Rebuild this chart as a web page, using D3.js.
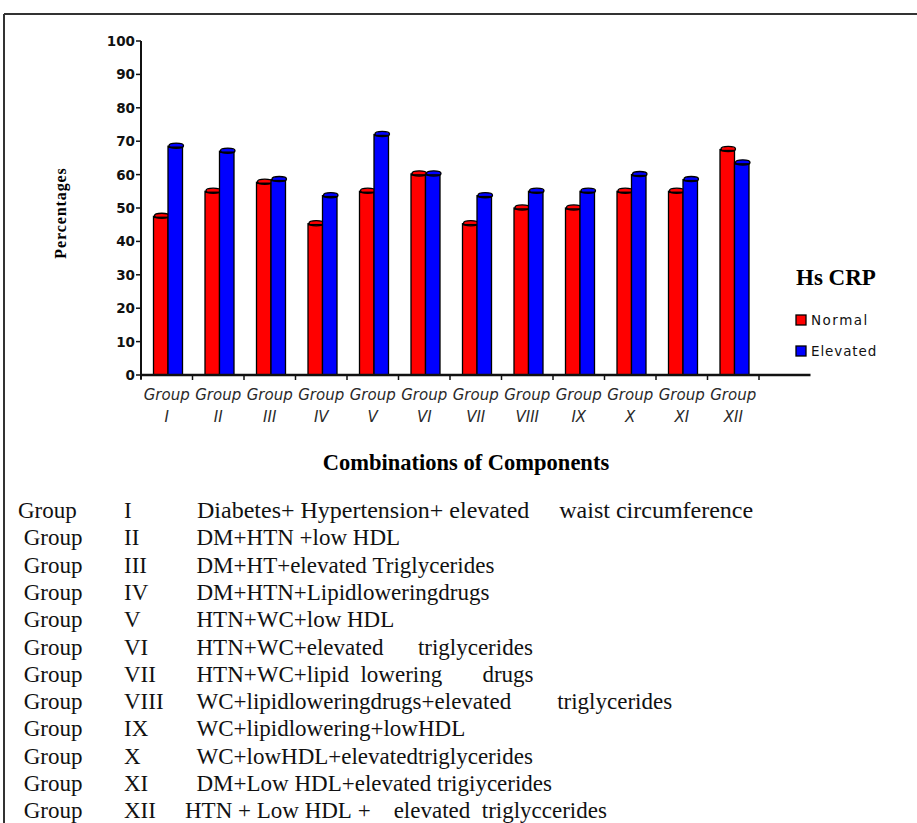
<!DOCTYPE html>
<html><head><meta charset="utf-8">
<script src="https://cdn.jsdelivr.net/npm/d3@7"></script>
<style>body{margin:0;background:#fff}svg{display:block}</style>
</head><body>
<svg id="c" width="917" height="823"></svg>
<script>
const groups = ["I","II","III","IV","V","VI","VII","VIII","IX","X","XI","XII"];
const series = ["Normal","Elevated"];
const normal   = [47.5,55,57.7,45.3,55,60.2,45.3,50,50,55,55,67.5];
const elevated = [68.5,67,58.5,53.7,72,60.2,53.7,55,55,60,58.5,63.5];
const yTicks = [0,10,20,30,40,50,60,70,80,90,100];
const colors = ["#ff0000","#0000ff"];
const descGroups = ["Group"," Group"," Group"," Group"," Group"," Group"," Group"," Group"," Group"," Group"," Group"," Group"];
const descRomans = ["I","II","III","IV","V","VI","VII","VIII","IX","X","XI","XII"];
const descTexts = [
  "Diabetes+ Hypertension+ elevated     waist circumference",
  "  DM+HTN +low HDL",
  "  DM+HT+elevated Triglycerides",
  "  DM+HTN+Lipidloweringdrugs",
  "  HTN+WC+low HDL",
  "  HTN+WC+elevated      triglycerides",
  "  HTN+WC+lipid  lowering       drugs",
  "  WC+lipidloweringdrugs+elevated        triglycerides",
  "  WC+lipidlowering+lowHDL",
  "  WC+lowHDL+elevatedtriglycerides",
  "  DM+Low HDL+elevated trigiycerides",
  "HTN + Low HDL +    elevated  triglyccerides"
];
const nb = s => s.replace(/ /g, "\u00A0");

const svg = d3.select("#c");
// frame
svg.append("line").attr("x1",4).attr("x2",917).attr("y1",14).attr("y2",14).attr("stroke","#333").attr("stroke-width",2);
svg.append("line").attr("x1",4).attr("x2",4).attr("y1",14).attr("y2",823).attr("stroke","#333").attr("stroke-width",2);

const x0 = 141, step = 51.5;
const x = d3.scaleBand().domain(groups).range([x0, x0 + step*groups.length]).padding(0);
const x1 = d3.scaleBand().domain(series).range([12.5, 41.5]).padding(0);
const y = d3.scaleLinear().domain([0,100]).range([375,41]);
const axisEnd = x0 + step*(groups.length+1);

// bars
const data = groups.map((g,i)=>({g, vals:[normal[i], elevated[i]]}));
const gG = svg.append("g");
data.forEach(d=>{
  d.vals.forEach((v,j)=>{
    const bx = x(d.g) + x1(series[j]);
    const w = x1.bandwidth();
    gG.append("rect").attr("x",bx).attr("y",y(v)).attr("width",w).attr("height",y(0)-y(v))
      .attr("fill",colors[j]).attr("stroke","#000").attr("stroke-width",1.3);
    gG.append("ellipse").attr("cx",bx+w/2+1).attr("cy",y(v)-0.5).attr("rx",w/2).attr("ry",2.6)
      .attr("fill",colors[j]).attr("stroke","#000").attr("stroke-width",1.3);
    gG.append("line").attr("x1",bx).attr("x2",bx+w).attr("y1",y(v)+1).attr("y2",y(v)+1).attr("stroke","#000").attr("stroke-width",1.5);
  });
});

// x axis
svg.append("line").attr("x1",x0).attr("x2",axisEnd).attr("y1",y(0)).attr("y2",y(0)).attr("stroke","#111").attr("stroke-width",2.5);
const bounds = d3.range(groups.length+1).map(i=> i<groups.length ? x(groups[i]) : x(groups[groups.length-1])+step);
svg.selectAll(".xt").data(bounds).join("line").attr("x1",d=>d).attr("x2",d=>d).attr("y1",y(0)).attr("y2",y(0)+5).attr("stroke","#111").attr("stroke-width",1.5);
const xl = svg.selectAll(".xl").data(groups).join("text")
  .attr("font-family","DejaVu Sans").attr("font-style","italic").attr("font-size",15).attr("fill","#2a2a2a")
  .attr("text-anchor","middle");
xl.append("tspan").attr("x",d=>x(d)+step/2).attr("y",400).text("Group");
xl.append("tspan").attr("x",d=>x(d)+step/2).attr("y",422).text(d=>d);

// y axis
svg.append("line").attr("x1",x0).attr("x2",x0).attr("y1",y(100)).attr("y2",y(0)+4).attr("stroke","#111").attr("stroke-width",2);
svg.selectAll(".yt").data(yTicks).join("line").attr("x1",x0-5).attr("x2",x0).attr("y1",d=>y(d)).attr("y2",d=>y(d)).attr("stroke","#111").attr("stroke-width",1.5);
svg.selectAll(".yl").data(yTicks).join("text").attr("x",x0-6).attr("y",d=>y(d)+5)
  .attr("text-anchor","end").attr("font-family","DejaVu Sans").attr("font-weight","bold").attr("font-size",13.5).attr("fill","#111").text(d=>d);

// axis titles
svg.append("text").attr("transform","translate(66,213) rotate(-90)").attr("text-anchor","middle")
  .attr("font-family","Liberation Serif").attr("font-weight","bold").attr("font-size",16).attr("letter-spacing",0.9).text("Percentages");
svg.append("text").attr("x",466).attr("y",470).attr("text-anchor","middle")
  .attr("font-family","Liberation Serif").attr("font-weight","bold").attr("font-size",22.5).text("Combinations of Components");

// legend
svg.append("text").attr("x",796).attr("y",285).attr("font-family","Liberation Serif").attr("font-weight","bold").attr("font-size",23).text("Hs CRP");
series.forEach((s,i)=>{
  const ly = 320 + i*31;
  svg.append("rect").attr("x",796).attr("y",ly-5).attr("width",10).attr("height",10).attr("fill",colors[i]).attr("stroke","#000").attr("stroke-width",1.3);
  svg.append("text").attr("x",811).attr("y",ly+5).attr("font-family","DejaVu Sans").attr("font-size",13.5).attr("letter-spacing",i===0?1.5:0.9).attr("fill","#111").text(s);
});

// description table
const dt = svg.append("g").attr("font-family","Liberation Serif").attr("font-size",23).attr("fill","#111");
descTexts.forEach((t,i)=>{
  const by = 518 + i*27.3;
  dt.append("text").attr("x",18).attr("y",by).text(nb(descGroups[i]));
  dt.append("text").attr("x",124).attr("y",by).text(descRomans[i]);
  const tt = dt.append("text").attr("x",i===0?197:185).attr("y",by).text(nb(t));
  if (i===0) tt.attr("font-size",24);
});
</script>
</body></html>
